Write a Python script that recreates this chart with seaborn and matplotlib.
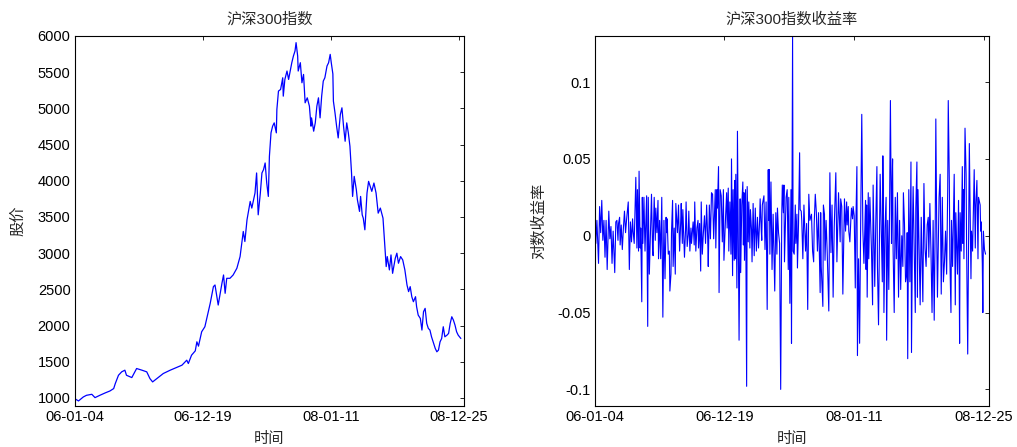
import numpy as np
import pandas as pd
import matplotlib
matplotlib.use("Agg")
import matplotlib.pyplot as plt
import seaborn as sns

# CSI 300 close (trading-day index, level)
price_day = [1, 8, 17, 23, 33, 39, 48, 58, 67, 74, 77, 83, 89, 95, 98, 108, 117, 127,
             136, 142, 147, 155, 167, 180, 192, 202, 211, 214, 220, 227, 230, 233, 239,
             245, 252, 255, 261, 264, 270, 277, 280, 283, 286, 292, 298, 305, 311, 317,
             320, 324, 330, 333, 339, 342, 345, 349, 352, 355, 358, 361, 364, 366, 369,
             372, 375, 379, 380, 383, 387, 391, 392, 395, 399, 402, 405, 408, 411, 414,
             416, 419, 420, 424, 427, 430, 433, 437, 441, 444, 445, 449, 452, 455, 458,
             461, 464, 467, 470, 474, 477, 480, 482, 485, 486, 489, 492, 495, 499, 502,
             505, 508, 511, 514, 517, 520, 522, 525, 529, 531, 535, 537, 540, 542, 545,
             549, 552, 555, 558, 562, 566, 570, 574, 579, 582, 585, 587, 591, 594, 597,
             602, 605, 608, 612, 616, 620, 624, 627, 630, 633, 636, 640, 642, 645, 649,
             652, 655, 658, 661, 664, 667, 670, 674, 677, 680, 683, 686, 689, 692, 695,
             699, 702, 705, 708, 711, 714, 717, 720, 725]
price = [991, 959, 1014, 1037, 1051, 1005, 1037, 1070, 1097, 1130, 1199, 1314, 1361, 1384,
         1314, 1282, 1407, 1384, 1361, 1268, 1222, 1268, 1338, 1384, 1421, 1453, 1522, 1476,
         1591, 1651, 1776, 1716, 1915, 1984, 2215, 2307, 2538, 2561, 2284, 2584, 2699, 2446,
         2653, 2653, 2699, 2792, 2953, 3300, 3161, 3461, 3715, 3623, 3831, 4108, 3530, 3831,
         4108, 4154, 4246, 3969, 3784, 4338, 4662, 4754, 4800, 4662, 4985, 5239, 5262, 5423,
         5169, 5400, 5516, 5400, 5516, 5631, 5723, 5792, 5908, 5723, 5516, 5631, 5354, 5469,
         5077, 5146, 5031, 4754, 4869, 4685, 4800, 5031, 5146, 4869, 5169, 5377, 5423, 5585,
         5631, 5746, 5631, 5476, 5100, 4939, 4754, 4592, 4915, 5008, 4754, 4546, 4800, 4662,
         4477, 4108, 3784, 4061, 3877, 3738, 3577, 3784, 3530, 3484, 3323, 3831, 3992, 3923,
         3854, 3969, 3831, 3553, 3623, 3484, 3138, 2815, 2953, 2769, 2976, 2722, 2930, 3000,
         2861, 2953, 2907, 2769, 2561, 2469, 2538, 2399, 2330, 2399, 2261, 2145, 2099, 1938,
         2192, 2238, 2030, 1961, 1938, 1845, 1753, 1684, 1638, 1661, 1776, 1822, 1984, 1845,
         1868, 1892, 2030, 2122, 2076, 2007, 1915, 1868, 1822]

# log returns (trading-day index, return)
ret_day = [1, 3, 5, 8, 10, 12, 14, 16, 18, 20, 22, 24, 27, 29, 31, 33, 35, 38, 40, 42,
           44, 45, 47, 48, 50, 52, 54, 56, 58, 60, 63, 65, 67, 69, 71, 72, 74, 77, 79, 80,
           82, 83, 85, 86, 88, 89, 90, 92, 94, 97, 99, 100, 102, 104, 106, 108, 109, 110,
           111, 113, 114, 116, 118, 119, 121, 123, 125, 127, 129, 131, 133, 134, 135, 137,
           139, 140, 142, 143, 145, 146, 148, 150, 151, 154, 156, 158, 160, 161, 163, 164,
           167, 169, 170, 172, 174, 175, 177, 179, 180, 182, 183, 185, 186, 188, 190, 192,
           193, 195, 197, 198, 200, 202, 204, 206, 208, 210, 211, 213, 215, 217, 219, 221,
           224, 225, 227, 228, 230, 231, 233, 235, 237, 239, 240, 243, 245, 246, 248, 249,
           251, 253, 254, 256, 257, 259, 260, 261, 262, 264, 265, 268, 270, 271, 273, 275,
           276, 277, 278, 280, 282, 283, 285, 286, 288, 289, 291, 292, 294, 296, 298, 300,
           302, 304, 306, 307, 309, 310, 311, 314, 316, 318, 320, 322, 323, 324, 325, 327,
           329, 331, 334, 336, 338, 339, 341, 343, 345, 347, 348, 350, 351, 352, 355, 357,
           359, 360, 362, 364, 365, 366, 367, 368, 370, 372, 373, 375, 376, 378, 380, 381,
           383, 384, 386, 388, 391, 393, 395, 397, 399, 402, 404, 406, 407, 409, 411, 413,
           415, 418, 419, 420, 423, 424, 426, 427, 429, 431, 434, 436, 438, 440, 442, 444,
           447, 449, 452, 454, 455, 456, 458, 460, 462, 463, 465, 467, 468, 470, 471, 473,
           475, 476, 478, 479, 481, 483, 484, 486, 487, 489, 491, 493, 495, 497, 499, 502,
           503, 504, 505, 507, 508, 510, 513, 515, 516, 519, 521, 523, 524, 526, 529, 531,
           533, 534, 535, 536, 538, 540, 541, 543, 545, 546, 548, 550, 551, 552, 553, 555,
           557, 559, 561, 563, 565, 567, 569, 571, 572, 574, 576, 578, 579, 580, 582, 584,
           585, 586, 587, 589, 590, 592, 594, 595, 597, 598, 599, 601, 603, 605, 608, 610,
           612, 614, 616, 618, 619, 621, 623, 625, 627, 629, 631, 632, 634, 635, 638, 640,
           642, 644, 646, 648, 650, 652, 654, 655, 657, 658, 660, 661, 663, 666, 668, 669,
           672, 674, 675, 676, 677, 679, 681, 682, 683, 684, 686, 688, 689, 691, 693, 694,
           695, 697, 698, 700, 703, 705, 706, 708, 710, 711, 714, 715, 716, 718, 719, 720,
           722, 724]
ret = [0.018, -0.005, 0.010, -0.018, 0.019, 0.002, 0.023, -0.003, 0.010, -0.014, 0.010,
       -0.022, 0.016, -0.002, 0.006, -0.018, 0.003, -0.024, 0.009, 0.010, -0.003, 0.008,
       0.012, -0.006, 0.007, -0.009, 0.005, 0.016, 0.002, 0.011, 0.022, -0.022, 0.009,
       -0.004, 0.011, 0.003, -0.005, 0.038, -0.008, 0.030, -0.010, 0.042, -0.008, 0.005,
       -0.043, 0.025, -0.005, 0.025, -0.010, 0.026, -0.059, 0.025, -0.025, 0.002, 0.027,
       -0.010, -0.013, 0.010, 0.025, -0.003, 0.018, 0.002, 0.023, -0.015, 0.010, -0.015,
       0.025, -0.053, 0.010, -0.028, 0.012, 0.002, 0.011, -0.012, -0.010, -0.036, -0.025,
       0.002, 0.023, -0.020, 0.005, -0.025, 0.021, 0.002, 0.020, -0.010, 0.009, 0.021,
       -0.005, 0.017, -0.014, 0.004, 0.022, -0.007, 0.001, 0.016, -0.010, 0.005, -0.005,
       0.004, 0.009, -0.006, 0.022, -0.010, 0.005, 0.010, -0.008, 0.008, -0.023, 0.022,
       -0.012, 0.002, 0.013, -0.005, 0.020, -0.002, -0.020, 0.020, -0.002, 0.028, 0.027,
       -0.002, 0.030, -0.008, 0.030, 0.018, 0.045, -0.037, 0.030, 0.026, -0.004, 0.030,
       -0.016, 0.012, 0.028, 0.005, 0.031, -0.010, 0.022, -0.012, 0.050, -0.026, 0.030,
       -0.016, 0.036, -0.015, 0.040, -0.034, 0.068, -0.068, 0.024, -0.024, 0.020, 0.035,
       -0.006, 0.028, -0.016, 0.030, -0.098, 0.032, -0.004, 0.022, -0.008, 0.017, 0.004,
       -0.017, 0.021, -0.013, 0.018, -0.010, 0.012, -0.008, 0.010, 0.024, 0.004, -0.003,
       0.020, 0.026, -0.009, 0.022, -0.048, 0.043, 0.010, 0.043, -0.012, 0.035, -0.022,
       0.014, -0.036, 0.015, -0.012, 0.018, 0.002, -0.005, -0.100, 0.014, 0.033, 0.015,
       0.033, -0.017, 0.025, 0.030, -0.022, 0.025, -0.044, 0.030, -0.070, 0.036, 0.130,
       -0.010, -0.012, 0.020, -0.005, 0.014, -0.021, 0.008, 0.054, 0.017, 0.016, 0.010,
       -0.015, 0.020, -0.010, 0.008, -0.048, 0.027, 0.010, 0.014, -0.010, -0.017, 0.008,
       0.027, 0.015, -0.010, 0.015, -0.037, 0.015, -0.020, -0.046, 0.020, 0.014, -0.016,
       0.010, -0.010, -0.049, 0.041, -0.011, 0.020, -0.040, 0.005, 0.041, -0.017, 0.028,
       0.008, -0.004, 0.024, 0.019, -0.038, 0.006, 0.024, 0.003, 0.022, 0.007, 0.019,
       0.003, -0.004, 0.012, 0.018, 0.011, 0.019, 0.013, -0.034, 0.006, 0.045, -0.078,
       -0.015, -0.070, 0.010, 0.079, 0.004, -0.018, 0.023, -0.022, 0.020, -0.040, 0.028,
       -0.015, 0.025, -0.010, -0.045, 0.033, -0.033, 0.010, 0.045, -0.020, -0.058, 0.040,
       0.005, -0.030, 0.052, 0.018, -0.050, 0.005, 0.025, -0.068, 0.010, -0.035, 0.000,
       0.088, -0.005, 0.030, 0.050, -0.010, -0.050, 0.025, -0.015, 0.028, -0.040, 0.010,
       -0.035, 0.000, -0.020, 0.028, 0.008, -0.030, -0.025, 0.002, -0.080, 0.030, -0.030,
       0.010, 0.048, -0.076, 0.010, 0.032, -0.010, -0.050, 0.018, 0.048, -0.040, 0.030,
       -0.006, -0.045, 0.012, -0.043, 0.034, -0.008, -0.020, 0.007, 0.012, -0.014, 0.021,
       -0.010, -0.050, 0.010, -0.055, 0.012, 0.076, -0.010, -0.040, 0.025, 0.040, -0.038,
       0.025, -0.030, -0.017, 0.003, -0.025, 0.030, 0.088, 0.035, -0.015, -0.050, 0.010,
       -0.020, 0.040, -0.045, 0.015, -0.025, 0.023, -0.014, -0.070, 0.015, -0.010, 0.045,
       -0.005, 0.030, -0.015, 0.070, 0.040, -0.010, -0.077, 0.020, 0.060, 0.030, -0.028,
       0.003, -0.010, 0.043, -0.008, 0.020, 0.036, -0.015, 0.025, 0.020, 0.003, 0.009,
       -0.018, -0.050, 0.003, -0.009, -0.012]

tick_days = [1, 241, 481, 721]
tick_labels = ["06-01-04", "06-12-19", "08-01-11", "08-12-25"]
price_ticks = [1000, 1500, 2000, 2500, 3000, 3500, 4000, 4500, 5000, 5500, 6000]
ret_ticks = [-0.1, -0.05, 0, 0.05, 0.1]
ret_tick_labels = ["-0.1", "-0.05", "0", "0.05", "0.1"]

sns.set_theme(style="white")
plt.rcParams['font.family'] = ['Liberation Sans', 'Noto Sans CJK SC']
plt.rcParams['axes.unicode_minus'] = False

fig = plt.figure(figsize=(10.17, 4.47), dpi=100)
ax1 = fig.add_axes([0.0735, 0.0928, 0.3828, 0.8267])
ax2 = fig.add_axes([0.5848, 0.0928, 0.388, 0.8267])

df_p = pd.DataFrame({"day": price_day, "price": price})
df_r = pd.DataFrame({"day": ret_day, "ret": ret})

sns.lineplot(data=df_p, x="day", y="price", ax=ax1, color="#0000ff",
             linewidth=0.9, estimator=None, sort=False)
sns.lineplot(data=df_r, x="day", y="ret", ax=ax2, color="#0000ff",
             linewidth=0.8, estimator=None, sort=False)

for ax in (ax1, ax2):
    ax.set_xlim(1, 731)
    ax.set_xticks(tick_days)
    ax.set_xticklabels(tick_labels)
    ax.tick_params(direction="in", top=True, right=True, length=3, width=0.6,
                   colors="black", labelsize=10.5, pad=3)
    for s in ax.spines.values():
        s.set_color("black")
        s.set_linewidth(0.8)
    ax.set_xlabel("时间", fontsize=11)
    ax.xaxis.set_label_coords(0.5, -0.071)

ax1.set_ylim(896, 6000)
ax1.set_yticks(price_ticks)
ax1.set_title("沪深300指数", fontsize=11, pad=9)
ax1.set_ylabel("股价", fontsize=11)
ax1.yaxis.set_label_coords(-0.127, 0.5)

ax2.set_ylim(-0.1105, 0.130)
ax2.set_yticks(ret_ticks)
ax2.set_yticklabels(ret_tick_labels)
ax2.set_title("沪深300指数收益率", fontsize=11, pad=9)
ax2.set_ylabel("对数收益率", fontsize=11)
ax2.yaxis.set_label_coords(-0.124, 0.5)

fig.savefig("out.png", dpi=100)
